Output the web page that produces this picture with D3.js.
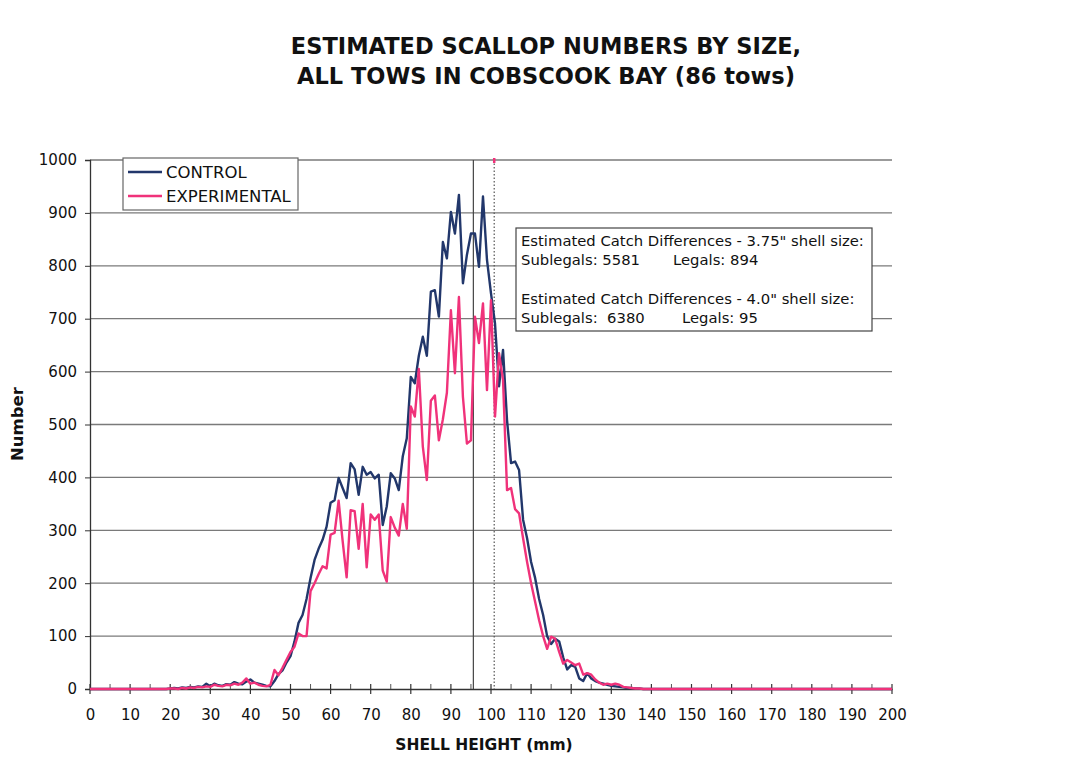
<!DOCTYPE html>
<html>
<head>
<meta charset="utf-8">
<script src="https://cdn.jsdelivr.net/npm/d3@7"></script>
<style>
  html, body { margin: 0; padding: 0; background: #ffffff; }
  svg { display: block; }
</style>
</head>
<body>
<svg id="chart" width="1077" height="761"></svg>
<script>
// ---- Data ----
const titleLines = ["ESTIMATED SCALLOP NUMBERS BY SIZE,", "ALL TOWS IN COBSCOOK BAY (86 tows)"];
const xTickLabels = [0,10,20,30,40,50,60,70,80,90,100,110,120,130,140,150,160,170,180,190,200];
const yTickLabels = [0,100,200,300,400,500,600,700,800,900,1000];
const seriesNames = ["CONTROL", "EXPERIMENTAL"];
// Shell heights (mm), 0..200 in 1-mm steps
const sizes = [
  0,1,2,3,4,5,6,7,8,9,10,11,12,13,14,15,16,17,18,19,
  20,21,22,23,24,25,26,27,28,29,30,31,32,33,34,35,36,37,38,39,
  40,41,42,43,44,45,46,47,48,49,50,51,52,53,54,55,56,57,58,59,
  60,61,62,63,64,65,66,67,68,69,70,71,72,73,74,75,76,77,78,79,
  80,81,82,83,84,85,86,87,88,89,90,91,92,93,94,95,96,97,98,99,
  100,101,102,103,104,105,106,107,108,109,110,111,112,113,114,115,116,117,118,119,
  120,121,122,123,124,125,126,127,128,129,130,131,132,133,134,135,136,137,138,139,
  140,141,142,143,144,145,146,147,148,149,150,151,152,153,154,155,156,157,158,159,
  160,161,162,163,164,165,166,167,168,169,170,171,172,173,174,175,176,177,178,179,
  180,181,182,183,184,185,186,187,188,189,190,191,192,193,194,195,196,197,198,199,
  200
];
const controlValues = [
  0,0,0,0,0,0,0,0,0,0,0,0,0,0,0,0,0,0,0,0,
  1,2,1,3,2,4,3,5,4,10,5,10,7,6,9,8,13,10,9,14,
  18,12,10,8,6,5,15,28,35,50,62,90,125,140,170,210,244,265,282,307,
  352,357,399,380,361,427,415,367,420,405,410,398,405,310,345,408,398,376,440,474,
  590,578,630,666,630,751,754,704,845,814,902,861,934,767,821,861,861,798,931,811,
  748,691,572,641,508,427,430,414,320,285,240,210,170,140,100,85,95,90,60,37,
  45,42,20,15,30,20,15,12,10,8,6,5,4,3,2,2,1,1,0,0,
  0,0,0,0,0,0,0,0,0,0,0,0,0,0,0,0,0,0,0,0,
  0,0,0,0,0,0,0,0,0,0,0,0,0,0,0,0,0,0,0,0,
  0,0,0,0,0,0,0,0,0,0,0,0,0,0,0,0,0,0,0,0,
  0
];
const experimentalValues = [
  0,0,0,0,0,0,0,0,0,0,0,0,0,0,0,0,0,0,0,0,
  1,1,0,2,1,3,2,4,3,5,4,8,6,5,8,7,10,8,12,20,
  10,12,8,6,5,8,36,26,40,55,70,80,105,100,100,185,200,217,232,228,
  292,295,356,280,211,338,336,265,350,230,330,320,330,224,203,325,305,290,350,303,
  534,515,605,458,395,545,555,470,510,560,716,597,741,552,464,470,704,654,729,565,
  735,515,635,584,376,380,340,332,285,240,200,165,130,100,76,99,95,70,48,55,
  50,45,48,27,30,27,18,12,8,10,8,10,8,4,3,2,1,1,0,0,
  0,0,0,0,0,0,0,0,0,0,0,0,0,0,0,0,0,0,0,0,
  0,0,0,0,0,0,0,0,0,0,0,0,0,0,0,0,0,0,0,0,
  0,0,0,0,0,0,0,0,0,0,0,0,0,0,0,0,0,0,0,0,
  0
];
// Legal size limits (mm) marked by vertical lines: 3.75" (solid) and 4.0" (dotted)
const sizeLimits = [95.6, 100.8];
const annotationLines = [
  ["Estimated Catch Differences - 3.75\" shell size:", ""],
  ["Sublegals: 5581", "Legals: 894"],
  ["", ""],
  ["Estimated Catch Differences - 4.0\" shell size:", ""],
  ["Sublegals:  6380", "Legals: 95"]
];

// ---- Layout ----
const svg = d3.select("#chart");
const W = 1077, H = 761;
const m = { left: 90, right: 1077 - 892, top: 160, bottom: 761 - 689 };
const x = d3.scaleLinear().domain([0, 200]).range([m.left, W - m.right]);
const y = d3.scaleLinear().domain([0, 1000]).range([H - m.bottom, m.top]);
const FONT = "'DejaVu Sans', Verdana, sans-serif";
const colors = ["#22376b", "#f0327a"];

svg.append("rect").attr("width", W).attr("height", H).attr("fill", "#ffffff");

// Title
svg.append("g").selectAll("text").data(titleLines).join("text")
  .attr("x", 546).attr("y", (d, i) => 54 + i * 30)
  .attr("text-anchor", "middle")
  .attr("font-family", FONT).attr("font-weight", "bold").attr("font-size", 22.5)
  .attr("fill", "#111").text(d => d);

// Horizontal gridlines
svg.append("g").selectAll("line").data(yTickLabels.filter(v => v > 0)).join("line")
  .attr("x1", x(0)).attr("x2", x(200))
  .attr("y1", d => y(d)).attr("y2", d => y(d))
  .attr("stroke", "#7a7a7a").attr("stroke-width", 1.3);

// Vertical size-limit lines
svg.append("line")
  .attr("x1", x(sizeLimits[0])).attr("x2", x(sizeLimits[0]))
  .attr("y1", y(1000)).attr("y2", y(0))
  .attr("stroke", "#444").attr("stroke-width", 1.2);
svg.append("line")
  .attr("x1", x(sizeLimits[1])).attr("x2", x(sizeLimits[1]))
  .attr("y1", y(1000)).attr("y2", y(0))
  .attr("stroke", "#555").attr("stroke-width", 1.2).attr("stroke-dasharray", "1.5,2");
svg.append("line")
  .attr("x1", x(sizeLimits[1])).attr("x2", x(sizeLimits[1]))
  .attr("y1", y(1000) - 2).attr("y2", y(1000) + 3)
  .attr("stroke", colors[1]).attr("stroke-width", 2.5);

// Y axis
const yAxis = d3.axisLeft(y).tickValues(yTickLabels).tickSize(5).tickPadding(8).tickFormat(d3.format("d"));
const gy = svg.append("g").attr("transform", `translate(${x(0)},0)`).call(yAxis);
gy.select(".domain").attr("stroke", "#333").attr("stroke-width", 1.3);
gy.selectAll(".tick line").attr("stroke", "#333");
gy.selectAll("text").attr("font-family", FONT).attr("font-size", 15).attr("fill", "#111");

// X axis
const xAxis = d3.axisBottom(x).tickValues(xTickLabels).tickSize(0).tickPadding(20).tickFormat(d3.format("d"));
const gx = svg.append("g").attr("transform", `translate(0,${y(0)})`).call(xAxis);
gx.select(".domain").attr("stroke", "#333").attr("stroke-width", 1.3);
gx.selectAll("text").attr("font-family", FONT).attr("font-size", 15).attr("fill", "#111");
// tick marks: majors cross the axis, minors above
svg.append("g").selectAll("line").data(xTickLabels).join("line")
  .attr("x1", d => x(d)).attr("x2", d => x(d))
  .attr("y1", y(0) - 5).attr("y2", y(0) + 5)
  .attr("stroke", "#333").attr("stroke-width", 1.2);
svg.append("g").selectAll("line").data(xTickLabels.slice(0, -1)).join("line")
  .attr("x1", d => x(d + 5)).attr("x2", d => x(d + 5))
  .attr("y1", y(0) - 5).attr("y2", y(0))
  .attr("stroke", "#555").attr("stroke-width", 1);

// Axis titles
svg.append("text").attr("x", 484).attr("y", 750).attr("text-anchor", "middle")
  .attr("font-family", FONT).attr("font-weight", "bold").attr("font-size", 15.5)
  .attr("fill", "#111").text("SHELL HEIGHT (mm)");
svg.append("text").attr("transform", "translate(23,424) rotate(-90)").attr("text-anchor", "middle")
  .attr("font-family", FONT).attr("font-weight", "bold").attr("font-size", 16.5)
  .attr("fill", "#111").text("Number");

// Lines
const line = d3.line().x((d, i) => x(sizes[i])).y(d => y(d));
[controlValues, experimentalValues].forEach((vals, k) => {
  svg.append("path").datum(vals)
    .attr("d", line).attr("fill", "none")
    .attr("stroke", colors[k]).attr("stroke-width", 2.4)
    .attr("stroke-linejoin", "round");
});

// Legend
const lg = svg.append("g").attr("transform", "translate(123,158)");
lg.append("rect").attr("width", 175).attr("height", 52)
  .attr("fill", "#fff").attr("stroke", "#666").attr("stroke-width", 1.2);
seriesNames.forEach((name, i) => {
  lg.append("line").attr("x1", 5).attr("x2", 39).attr("y1", 14 + i * 24).attr("y2", 14 + i * 24)
    .attr("stroke", colors[i]).attr("stroke-width", 2.4);
  lg.append("text").attr("x", 43).attr("y", 20 + i * 24)
    .attr("font-family", FONT).attr("font-size", 16.5).attr("fill", "#111").text(name);
});

// Annotation box
const ab = svg.append("g").attr("transform", "translate(516,228)");
ab.append("rect").attr("width", 356).attr("height", 103)
  .attr("fill", "#fff").attr("stroke", "#444").attr("stroke-width", 1.2);
annotationLines.forEach((pair, i) => {
  ab.append("text").attr("x", 5).attr("y", 18 + i * 19.3)
    .attr("font-family", FONT).attr("font-size", 14.8).attr("fill", "#111")
    .attr("xml:space", "preserve").style("white-space", "pre").text(pair[0]);
  if (pair[1]) {
    ab.append("text").attr("x", i === 1 ? 157 : 166).attr("y", 18 + i * 19.3)
      .attr("font-family", FONT).attr("font-size", 14.8).attr("fill", "#111").text(pair[1]);
  }
});
</script>
</body>
</html>
